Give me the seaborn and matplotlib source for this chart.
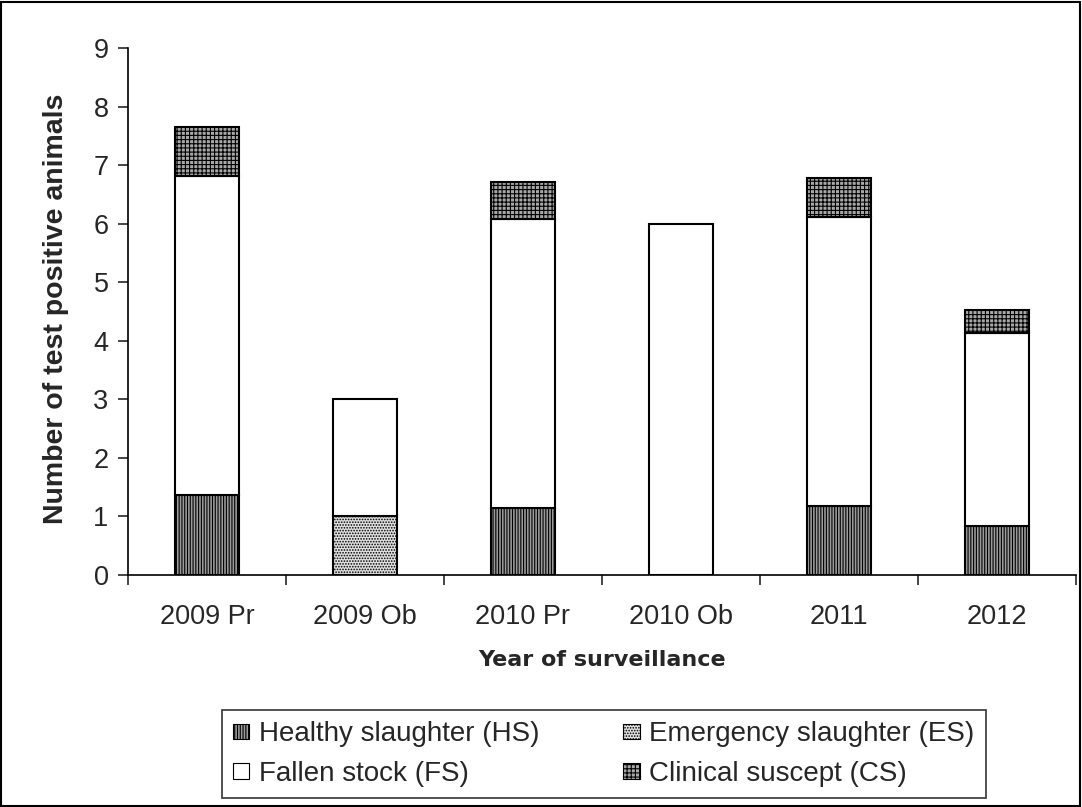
import matplotlib
matplotlib.use("Agg")
import matplotlib.pyplot as plt
import seaborn as sns
import numpy as np
from matplotlib.patches import Patch, Rectangle

years = ["2009 Pr", "2009 Ob", "2010 Pr", "2010 Ob", "2011", "2012"]
healthy = [1.37, 0.0, 1.14, 0.0, 1.18, 0.84]
emergency = [0.0, 1.0, 0.0, 0.0, 0.0, 0.0]
fallen = [5.44, 2.0, 4.94, 6.0, 4.93, 3.29]
clinical = [0.84, 0.0, 0.63, 0.0, 0.67, 0.39]

layers = [
    ("Healthy slaughter (HS)", healthy, "#9a9a9a", "||||||"),
    ("Emergency slaughter (ES)", emergency, "#e0e0e0", "......"),
    ("Fallen stock (FS)", fallen, "white", ""),
    ("Clinical suscept (CS)", clinical, "#a8a8a8", "++++"),
]

sns.set_style("white")
plt.rcParams["font.family"] = ["Liberation Sans", "DejaVu Sans"]
plt.rcParams["hatch.linewidth"] = 0.8

fig = plt.figure(figsize=(10.82, 8.07), dpi=100)
ax = fig.add_axes([0.1183, 0.2875, 0.876, 0.653])

bottom = np.zeros(len(years))
for name, vals, color, hatch in layers:
    n_before = len(ax.patches)
    sns.barplot(x=years, y=vals, bottom=bottom, color=color, width=0.405,
                edgecolor="black", linewidth=1.5, ax=ax, saturation=1)
    for p in ax.patches[n_before:]:
        p.set_hatch(hatch)
        if p.get_height() == 0:
            p.set_visible(False)
    bottom = bottom + np.array(vals)

ax.set_ylim(0, 9)
ax.set_xlim(-0.5, len(years) - 0.5)
ax.set_yticks(range(0, 10))
ax.tick_params(axis="y", labelsize=19.5, length=7, width=1.2, direction="out", left=True, pad=7)
ax.tick_params(axis="x", which="major", labelsize=19.5, length=0, pad=21)
ax.set_xticks(np.arange(-0.5, len(years)), minor=True)
ax.tick_params(axis="x", which="minor", length=7, width=1.2, direction="out", bottom=True)

for s in ["top", "right"]:
    ax.spines[s].set_visible(False)
for s in ["left", "bottom"]:
    ax.spines[s].set_color("black")
    ax.spines[s].set_linewidth(1.2)

ax.set_ylabel("Number of test positive animals", fontsize=20.5, fontweight="bold")
ax.yaxis.set_label_coords(-0.062, 0.505)
ax.set_xlabel("Year of surveillance", fontsize=16, fontweight="bold",
              family=["DejaVu Sans"])
ax.xaxis.set_label_coords(0.5, -0.142)

handles = {n: Patch(facecolor=c, edgecolor="black", hatch=h, linewidth=0.8, label=n)
           for n, v, c, h in layers}
# legend fills by column, so order HS, FS, ES, CS to get HS/ES on the first row
order = ["Healthy slaughter (HS)", "Fallen stock (FS)",
         "Emergency slaughter (ES)", "Clinical suscept (CS)"]
leg = fig.legend(handles=[handles[k] for k in order], ncol=2, loc="center",
                 bbox_to_anchor=(0.558, 0.0657),
                 fontsize=20, frameon=True, fancybox=False, edgecolor="black",
                 handlelength=0.6, handleheight=0.47, handletextpad=0.35,
                 columnspacing=3.0, borderpad=0.4, labelspacing=0.5,
                 borderaxespad=0)
leg.get_frame().set_linewidth(1.2)

fig.patches.append(Rectangle((0.001, 0.001), 0.997, 0.997, transform=fig.transFigure,
                             fill=False, edgecolor="black", linewidth=1.5))

fig.savefig("out.png", dpi=100)
